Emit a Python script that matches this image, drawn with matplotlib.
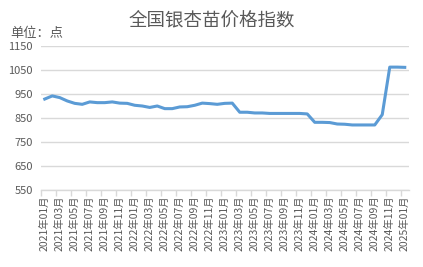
import matplotlib
matplotlib.use("Agg")
import matplotlib.pyplot as plt

plt.rcParams['font.family'] = ['Noto Sans CJK SC', 'DejaVu Sans']

months = [f"{y}年{m:02d}月" for y in range(2021, 2025) for m in range(1, 13)] + ["2025年01月"]
values = [929, 942, 935, 921, 911, 907, 917, 914, 914, 917, 912, 911,
          903, 900, 894, 900, 889, 889, 896, 897, 903, 912, 910, 907,
          911, 912, 874, 874, 871, 871, 869, 869, 869, 869, 869, 867,
          832, 832, 831, 825, 824, 821, 821, 821, 821, 864, 1062, 1062,
          1061]
yticks = [550, 650, 750, 850, 950, 1050, 1150]

W, H = 423, 267
fig = plt.figure(figsize=(W/100, H/100), dpi=100)
ax = fig.add_axes([41/W, 1-190/H, (408.5-41)/W, (190-46)/H])

x = list(range(len(values)))
ax.plot(x, values, color='#5B9BD5', lw=2.2, solid_joinstyle='round')
ax.set_xlim(-0.5, len(values)-0.5)
ax.set_ylim(550, 1150)
ax.set_yticks(yticks)
ax.set_yticklabels([str(v) for v in yticks], fontsize=8, color='#595959')
ax.yaxis.grid(True, color='#d9d9d9', lw=1)
ax.set_axisbelow(True)
ax.tick_params(axis='y', length=0, pad=6)

ax.set_xticks(x[::2])
ax.set_xticklabels(months[::2], rotation=90, fontsize=7.5, color='#595959')
ax.set_xticks([i - 0.5 for i in range(0, len(values)+1, 2)], minor=True)
ax.tick_params(axis='x', which='major', length=0, pad=4)
ax.tick_params(axis='x', which='minor', length=4, color='#d9d9d9', width=1)

for s in ['top', 'right', 'left']:
    ax.spines[s].set_visible(False)
ax.spines['bottom'].set_color('#d9d9d9')
ax.spines['bottom'].set_linewidth(1)

fig.text(212/W, 1-20/H, '全国银杏苗价格指数', ha='center', va='center', fontsize=13.3, color='#595959')
fig.text(10/W, 1-33/H, '单位：点', ha='left', va='center', fontsize=9.5, color='#595959')

fig.savefig('out.png', dpi=100)
